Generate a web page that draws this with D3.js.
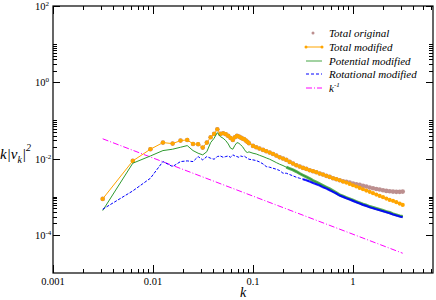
<!DOCTYPE html>
<html><head><meta charset="utf-8">
<script src="https://cdn.jsdelivr.net/npm/d3@7"></script>
<style>
body{margin:0;background:#fff}
svg{display:block}
svg text{font-family:"Liberation Serif","DejaVu Serif",serif;fill:#000}
</style></head><body>
<svg id="chart" width="436" height="300" font-family="Liberation Serif, serif"></svg>
<script>
// wavenumbers: first 29 modes, then the dense tail read at even log steps
const kLow = [0.00314,0.00628,0.00942,0.01257,0.01571,0.01885,0.02199,0.02513,0.02827,0.03142,
  0.03456,0.0377,0.04084,0.04398,0.04712,0.05027,0.05341,0.05655,0.05969,0.06283,
  0.06597,0.06912,0.07226,0.0754,0.07854,0.08168,0.08482,0.08796,0.0911];
const kHigh = [0.1,0.1077,0.116,0.1259,0.1357,0.1468,0.1585,0.171,0.1848,0.1995,
  0.2154,0.2326,0.2512,0.2712,0.2929,0.3162,0.3415,0.3687,0.3981,0.4299,
  0.4642,0.5012,0.5412,0.5843,0.631,0.6813,0.7356,0.7943,0.8577,0.9261,
  1.0,1.0798,1.166,1.2589,1.3594,1.4678,1.5849,1.7113,1.8478,1.9953,
  2.1544,2.3263,2.5119,2.7123,2.9286,3.1416];

const totalModLow = [0.000877,0.00869,0.0176,0.0262,0.0247,0.0296,0.0308,0.0242,0.0238,0.0194,
  0.0262,0.0362,0.0443,0.0587,0.0443,0.0461,0.0435,0.0393,0.0347,0.0308,
  0.0362,0.0393,0.0377,0.0355,0.0334,0.0322,0.0296,0.0274,0.0252];
const totalModHigh = [0.0215,0.0198,0.0183,0.0169,0.0156,0.0144,0.0132,0.0120,0.0108,0.0100,
  0.00923,0.00818,0.00740,0.00668,0.00617,0.00569,0.00536,0.00494,0.00466,0.00439,
  0.00405,0.00381,0.00352,0.00331,0.00305,0.00288,0.00270,0.00249,0.00235,0.00217,
  0.00200,0.00185,0.00170,0.00157,0.00145,0.00134,0.00124,0.00114,0.00105,0.000970,
  0.000895,0.000826,0.000778,0.000718,0.000662,0.000611];
// original total: same as modified until k ~ 0.6, then levels off
const totalOrigHigh = [0.0215,0.0198,0.0183,0.0169,0.0156,0.0144,0.0132,0.0120,0.0108,0.0100,
  0.00923,0.00818,0.00740,0.00668,0.00617,0.00569,0.00536,0.00494,0.00466,0.00439,
  0.00405,0.00381,0.00352,0.00331,0.00305,0.00288,0.00270,0.00255,0.00245,0.00235,
  0.00221,0.00213,0.00204,0.00192,0.00185,0.00174,0.00167,0.00160,0.00154,0.00148,
  0.00142,0.00139,0.00136,0.00134,0.00134,0.00136];
const potentialLow = [0.000434,0.00755,0.0117,0.0162,0.0176,0.0198,0.0219,0.0162,0.0138,0.0125,
  0.0152,0.0262,0.0341,0.0480,0.0377,0.0341,0.0296,0.0242,0.0187,0.0176,
  0.0223,0.0262,0.0252,0.0228,0.0206,0.0176,0.0152,0.0144,0.0150];
const potentialHigh = [0.0138,0.0132,0.0122,0.0113,0.0104,0.00961,0.00869,0.00785,0.00711,0.00656,
  0.00593,0.00547,0.00505,0.00456,0.00405,0.00366,0.00331,0.00299,0.00265,0.00240,
  0.00217,0.00196,0.00177,0.00160,0.00142,0.00126,0.00112,0.00103,0.000951,0.000877,
  0.000809,0.000747,0.000689,0.000635,0.000599,0.000552,0.000520,0.000490,0.000461,0.000434,
  0.000408,0.000385,0.000355,0.000334,0.000315,0.000302];
const rotationalLow = [0.000470,0.00142,0.00305,0.00834,0.00617,0.00834,0.00869,0.00834,0.0113,0.00923,
  0.0113,0.0102,0.00961,0.0113,0.0117,0.0108,0.0113,0.0117,0.0108,0.0125,
  0.0117,0.0113,0.0108,0.0117,0.0113,0.0117,0.0108,0.0102,0.00961];
const rotationalHigh = [0.00923,0.00887,0.00818,0.00724,0.00617,0.00593,0.00558,0.00526,0.00485,0.00413,
  0.00413,0.00381,0.00352,0.00324,0.00305,0.00288,0.00270,0.00249,0.00230,0.00213,
  0.00196,0.00177,0.00164,0.00148,0.00134,0.00121,0.00107,0.000991,0.000914,0.000843,
  0.000778,0.000718,0.000662,0.000611,0.000575,0.000531,0.000500,0.000470,0.000443,0.000417,
  0.000393,0.000370,0.000341,0.000321,0.000302,0.000290];
// k^-1 guide line end points
const kRef = [0.00314, 3.1416];
const refVals = [0.033, 0.000033];

const xMajor = [0.001, 0.01, 0.1, 1];
const xLabels = ["0.001", "0.01", "0.1", "1"];
const yMajorExp = [-4, -2, 0, 2];

const legendItems = ["Total original", "Total modified", "Potential modified", "Rotational modified"];

const M = {left: 53, right: 433, top: 6, bottom: 273};
const C = {orig: "#bc8f8f", mod: "#ffa500", pot: "#2f9a2f", rot: "#0000ff", ref: "#ff00ff"};

const svg = d3.select("#chart");
const x = d3.scaleLog().domain([0.001, 6.31]).range([M.left, M.right]);
const y = d3.scaleLog().domain([1e-5, 1e2]).range([M.bottom, M.top]);

const k = kLow.concat(kHigh);
const zipS = vals => k.map((kk, i) => ({k: kk, v: vals[i]}));
const totalMod = zipS(totalModLow.concat(totalModHigh));
const totalOrig = zipS(totalModLow.concat(totalOrigHigh));
const potential = zipS(potentialLow.concat(potentialHigh));
const rotational = zipS(rotationalLow.concat(rotationalHigh));
const ref = kRef.map((kk, i) => ({k: kk, v: refVals[i]}));

svg.append("clipPath").attr("id", "clip").append("rect")
  .attr("x", M.left).attr("y", M.top).attr("width", M.right - M.left).attr("height", M.bottom - M.top);

const line = d3.line().x(d => x(d.k)).y(d => y(d.v));
const plot = svg.append("g").attr("clip-path", "url(#clip)");

plot.append("path").datum(ref).attr("fill", "none").attr("stroke", C.ref)
  .attr("stroke-width", 1).attr("stroke-dasharray", "6,2,1,2").attr("d", line);

plot.append("g").selectAll("circle").data(totalOrig).join("circle")
  .attr("cx", d => x(d.k)).attr("cy", d => y(d.v)).attr("r", 2.3).attr("fill", C.orig);

plot.append("path").datum(totalMod).attr("fill", "none").attr("stroke", C.mod)
  .attr("stroke-width", 1).attr("d", line);
plot.append("g").selectAll("circle").data(totalMod).join("circle")
  .attr("cx", d => x(d.k)).attr("cy", d => y(d.v)).attr("r", 2.1).attr("fill", C.mod);

// the tail is very noisy in the original, giving a thick band
plot.append("path").datum(potential.filter(d => d.k >= 0.2)).attr("fill", "none")
  .attr("stroke", C.pot).attr("stroke-opacity", 0.8).attr("stroke-width", 3).attr("d", line);
plot.append("path").datum(potential).attr("fill", "none").attr("stroke", C.pot)
  .attr("stroke-width", 1).attr("d", line);

plot.append("path").datum(rotational.filter(d => d.k >= 0.3)).attr("fill", "none")
  .attr("stroke", C.rot).attr("stroke-opacity", 0.85).attr("stroke-width", 2.2).attr("d", line);
plot.append("path").datum(rotational).attr("fill", "none").attr("stroke", C.rot)
  .attr("stroke-width", 1).attr("stroke-dasharray", "3,1.5").attr("d", line);

// frame
svg.append("rect").attr("x", M.left).attr("y", M.top)
  .attr("width", M.right - M.left).attr("height", M.bottom - M.top)
  .attr("fill", "none").attr("stroke", "#000").attr("stroke-width", 1.2);

// x ticks (major + minor), mirrored on top
const xMinor = [];
xMajor.forEach(d => d3.range(2, 10).forEach(m => { if (d * m <= 6.31) xMinor.push(d * m); }));
const ticks = svg.append("g").attr("stroke", "#000").attr("stroke-width", 1);
[[xMajor, 8], [xMinor, 4]].forEach(([vals, len]) => {
  vals.forEach(v => {
    const px = Math.round(x(v)) + 0.5;
    ticks.append("line").attr("x1", px).attr("x2", px).attr("y1", M.bottom).attr("y2", M.bottom - len);
    ticks.append("line").attr("x1", px).attr("x2", px).attr("y1", M.top).attr("y2", M.top + len);
  });
});
xMajor.forEach((v, i) => {
  svg.append("text").attr("x", x(v)).attr("y", 285).attr("text-anchor", "middle")
    .attr("font-size", 10.5).text(xLabels[i]);
});

// y ticks: majors every two decades, minors 2..10 above each
const yMinor = [];
yMajorExp.slice(0, 3).forEach(e => d3.range(2, 11).forEach(m => yMinor.push(m * Math.pow(10, e))));
[[yMajorExp.map(e => Math.pow(10, e)), 7], [yMinor, 4]].forEach(([vals, len]) => {
  vals.forEach(v => {
    const py = Math.round(y(v)) + 0.5;
    ticks.append("line").attr("x1", M.left).attr("x2", M.left + len).attr("y1", py).attr("y2", py);
    ticks.append("line").attr("x1", M.right).attr("x2", M.right - len).attr("y1", py).attr("y2", py);
  });
});
yMajorExp.forEach(e => {
  const t = svg.append("text").attr("x", 35).attr("y", y(Math.pow(10, e)) + 4).attr("font-size", 10.5);
  t.append("tspan").text("10");
  t.append("tspan").attr("font-size", 7).attr("dy", -4).text(e);
});

// axis titles
svg.append("text").attr("x", 243).attr("y", 297).attr("text-anchor", "middle")
  .attr("font-size", 14).attr("font-style", "italic").text("k");
const yl = svg.append("text").attr("x", 0).attr("y", 159).attr("font-size", 15).attr("font-style", "italic");
yl.append("tspan").text("k|v");
yl.append("tspan").attr("font-size", 10).attr("dy", 4).text("k");
yl.append("tspan").attr("dy", -4).text("|");
yl.append("tspan").attr("font-size", 10).attr("dy", -8).text("2");

// legend
const lg = svg.append("g");
const rowY = [33, 47, 61, 74, 88];
lg.append("circle").attr("cx", 313).attr("cy", rowY[0]).attr("r", 1.5).attr("fill", C.orig);
lg.append("line").attr("x1", 306).attr("x2", 322).attr("y1", rowY[1]).attr("y2", rowY[1])
  .attr("stroke", C.mod).attr("stroke-width", 1);
[306, 322].forEach(cx => lg.append("circle").attr("cx", cx).attr("cy", rowY[1]).attr("r", 1.5).attr("fill", C.mod));
lg.append("line").attr("x1", 306).attr("x2", 322).attr("y1", rowY[2]).attr("y2", rowY[2])
  .attr("stroke", C.pot).attr("stroke-width", 1.5).attr("stroke-opacity", 0.6);
lg.append("line").attr("x1", 306).attr("x2", 322).attr("y1", rowY[3]).attr("y2", rowY[3])
  .attr("stroke", C.rot).attr("stroke-width", 1).attr("stroke-dasharray", "3,2");
lg.append("line").attr("x1", 306).attr("x2", 322).attr("y1", rowY[4]).attr("y2", rowY[4])
  .attr("stroke", C.ref).attr("stroke-width", 1).attr("stroke-dasharray", "6,2,1,2");
legendItems.forEach((s, i) => {
  lg.append("text").attr("x", 329).attr("y", rowY[i] + 3.5).attr("font-size", 11)
    .attr("font-style", "italic").text(s);
});
const kt = lg.append("text").attr("x", 329).attr("y", rowY[4] + 3.5).attr("font-size", 11).attr("font-style", "italic");
kt.append("tspan").text("k");
kt.append("tspan").attr("font-size", 7).attr("dy", -5).text("-1");
</script></body></html>
